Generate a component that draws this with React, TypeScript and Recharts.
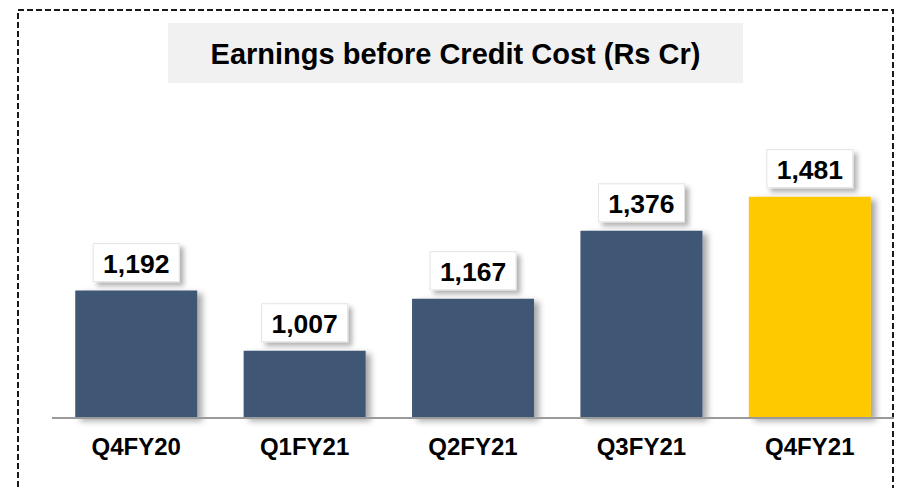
import { Bar, BarChart, Cell, LabelList, XAxis, YAxis } from "recharts";

const quarters = ["Q4FY20", "Q1FY21", "Q2FY21", "Q3FY21", "Q4FY21"];
const earnings = [1192, 1007, 1167, 1376, 1481];
const barColors = ["#405674", "#405674", "#405674", "#405674", "#FFC906"];

const data = quarters.map((q, i) => ({ name: q, value: earnings[i] }));

const FONT = '"Liberation Sans", Arial, sans-serif';

const ValueBox = (props: any) => {
  const { x, y, width, value } = props;
  const cx = x + width / 2;
  const boxW = 86;
  const boxH = 38;
  const top = y - 9 - boxH;
  return (
    <g>
      <rect
        x={cx - boxW / 2}
        y={top}
        width={boxW}
        height={boxH}
        fill="#ffffff"
        stroke="#e4e4e0"
        strokeWidth={1}
        filter="url(#boxShadow)"
      />
      <text
        x={cx}
        y={top + boxH / 2 + 1}
        textAnchor="middle"
        dominantBaseline="central"
        fontFamily={FONT}
        fontWeight="bold"
        fontSize={26.5}
        fill="#000"
      >
        {Number(value).toLocaleString("en-US")}
      </text>
    </g>
  );
};

const App = () => {
  return (
    <div
      style={{
        position: "absolute",
        left: 0,
        top: 0,
        width: 897,
        height: 488,
        overflow: "hidden",
        background: "#fff",
      }}
    >
      <svg width={897} height={488} style={{ position: "absolute", left: 0, top: 0 }}>
        <rect
          x={18}
          y={10}
          width={875}
          height={520}
          fill="none"
          stroke="#1b1b1b"
          strokeWidth={2}
          strokeDasharray="6 3"
        />
      </svg>
      <div
        style={{
          position: "absolute",
          left: 168,
          top: 23,
          width: 575,
          height: 60,
          background: "#f1f1f1",
          fontFamily: FONT,
          fontWeight: "bold",
          fontSize: 29,
          lineHeight: "62px",
          textAlign: "center",
          color: "#000",
        }}
      >
        Earnings before Credit Cost (Rs Cr)
      </div>
      <div style={{ position: "absolute", left: 0, top: 0 }}>
        <BarChart
          width={897}
          height={488}
          data={data}
          margin={{ top: 158, right: 3, bottom: 30, left: 52 }}
          barCategoryGap="13.8%"
        >
          <defs>
            <filter id="barShadow" x="-20%" y="-10%" width="150%" height="130%">
              <feDropShadow dx={5} dy={3} stdDeviation={3} floodColor="#000" floodOpacity={0.35} />
            </filter>
            <filter id="boxShadow" x="-20%" y="-20%" width="150%" height="160%">
              <feDropShadow dx={4} dy={4} stdDeviation={2.5} floodColor="#000" floodOpacity={0.3} />
            </filter>
          </defs>
          <XAxis
            dataKey="name"
            height={40}
            tickLine={false}
            tickMargin={14}
            axisLine={{ stroke: "#9a9a9a", strokeWidth: 2 }}
            tick={{ fill: "#000", fontSize: 24, fontWeight: "bold", fontFamily: FONT }}
          />
          <YAxis hide type="number" domain={[800, 1600]} />
          <Bar dataKey="value" isAnimationActive={false}>
            {data.map((d, i) => (
              <Cell key={d.name} fill={barColors[i]} filter="url(#barShadow)" />
            ))}
            <LabelList dataKey="value" content={ValueBox} />
          </Bar>
        </BarChart>
      </div>
    </div>
  );
};

export default App;
